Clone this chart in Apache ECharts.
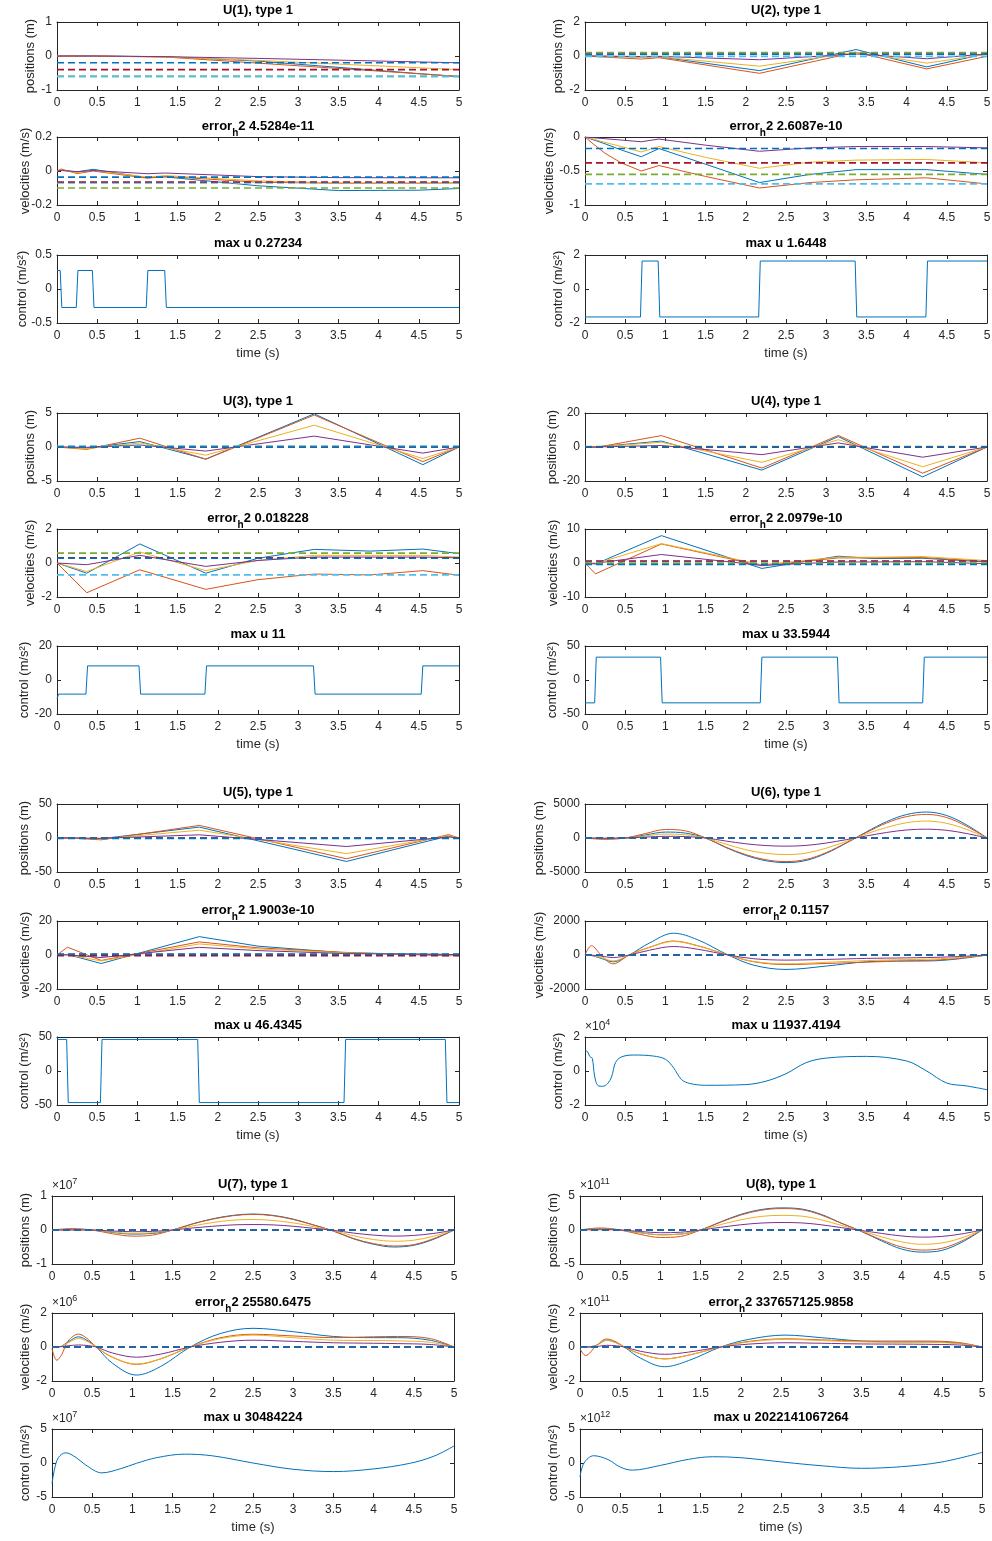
<!DOCTYPE html>
<html>
<head>
<meta charset="utf-8">
<title>U(1) - U(8), type 1</title>
<script src="https://cdn.jsdelivr.net/npm/echarts@6.0.0/dist/echarts.min.js"></script>
<style>
  html, body { margin: 0; padding: 0; background: #fff; }
  #chart { width: 992px; height: 1541px; }
</style>
</head>
<body>
<div id="chart"></div>
<script>
// ---- titles ----
const groupNames = ['U(1), type 1', 'U(2), type 1', 'U(3), type 1', 'U(4), type 1',
                    'U(5), type 1', 'U(6), type 1', 'U(7), type 1', 'U(8), type 1'];
const errorValues = ['4.5284e-11', '2.6087e-10', '0.018228', '2.0979e-10',
                     '1.9003e-10', '0.1157', '25580.6475', '337657125.9858'];
const maxUValues = ['0.27234', '1.6448', '11', '33.5944',
                    '46.4345', '11937.4194', '30484224', '2022141067264'];
const yLabels = ['positions (m)', 'velocities (m/s)', 'control (m/s²)'];
const xLabel = 'time (s)';
const xTicks = [0, 0.5, 1, 1.5, 2, 2.5, 3, 3.5, 4, 4.5, 5];
// exponent (x10^n) shown above each panel, 0 = none
const yExponents = [[0, 0, 0], [0, 0, 0], [0, 0, 0], [0, 0, 0],
                    [0, 0, 0], [0, 0, 4], [7, 6, 7], [11, 11, 12]];

// ---- U(1) ----
const u1PosT = [0, 0.45, 1.35, 2.5, 5];
const u1PosBlue = [0, 0, -0.02, -0.15, -0.61];
const u1PosOrange = [0, 0, -0.03, -0.21, -0.6];
const u1PosYellow = [0, 0, -0.03, -0.13, -0.4];
const u1PosPurple = [0, 0, -0.02, -0.07, -0.2];
const u1PosTarget = [-0.6, -0.6, -0.4, -0.2];
const u1PosTicks = [-1, 0, 1];
const u1VelT = [0, 0.05, 0.25, 0.45, 1.12, 1.35, 2.5, 3.5, 4.5, 5];
const u1VelBlue = [0, 0.005, -0.005, 0.01, -0.04, -0.035, -0.087, -0.115, -0.113, -0.103];
const u1VelOrange = [0, 0.012, -0.015, 0, -0.042, -0.032, -0.066, -0.072, -0.072, -0.07];
const u1VelYellow = [0, 0.006, -0.01, 0.003, -0.036, -0.027, -0.058, -0.07, -0.07, -0.07];
const u1VelPurple = [0, 0.003, -0.004, 0.003, -0.016, -0.012, -0.033, -0.039, -0.04, -0.04];
const u1VelTarget = [-0.1, -0.07, -0.065, -0.036];
const u1VelTicks = [-0.2, 0, 0.2];
const u1CtrlT = [0, 0.04, 0.06, 0.24, 0.26, 0.44, 0.46, 1.11, 1.13, 1.34, 1.36, 5];
const u1CtrlU = [0.27234, 0.27234, -0.27234, -0.27234, 0.27234, 0.27234, -0.27234, -0.27234, 0.27234, 0.27234, -0.27234, -0.27234];
const u1CtrlTicks = [-0.5, 0, 0.5];

// ---- U(2) ----
const u2PosT = [0, 0.7, 0.92, 2.17, 3.37, 4.25, 5];
const u2PosBlue = [0, -0.05, -0.05, -0.86, 0.38, -0.64, 0.15];
const u2PosOrange = [0, -0.18, -0.1, -1.02, 0.22, -0.76, -0.02];
const u2PosYellow = [0, -0.08, -0.05, -0.6, 0.22, -0.42, 0.1];
const u2PosPurple = [0, -0.03, -0.02, -0.22, 0.12, -0.16, 0.12];
const u2PosTarget = [0.2, -0.02, 0.1, 0.1];
const u2PosTicks = [-2, 0, 2];
const u2VelT = [0, 0.1, 0.25, 0.45, 0.7, 0.92, 1.5, 2.17, 2.8, 3.37, 4.25, 5];
const u2VelBlue = [0, -0.04, -0.1, -0.19, -0.29, -0.17, -0.4, -0.67, -0.55, -0.48, -0.48, -0.55];
const u2VelOrange = [0, -0.1, -0.24, -0.38, -0.5, -0.42, -0.58, -0.75, -0.67, -0.63, -0.6, -0.69];
const u2VelYellow = [0, -0.03, -0.08, -0.14, -0.22, -0.14, -0.3, -0.46, -0.37, -0.34, -0.33, -0.38];
const u2VelPurple = [0, -0.01, -0.025, -0.045, -0.07, -0.03, -0.12, -0.21, -0.16, -0.14, -0.14, -0.16];
const u2VelTarget = [-0.55, -0.69, -0.38, -0.17];
const u2VelTicks = [-1, -0.5, 0];
const u2CtrlT = [0, 0.69, 0.71, 0.91, 0.93, 2.16, 2.18, 3.36, 3.38, 4.24, 4.26, 5];
const u2CtrlU = [-1.6448, -1.6448, 1.6448, 1.6448, -1.6448, -1.6448, 1.6448, 1.6448, -1.6448, -1.6448, 1.6448, 1.6448];
const u2CtrlTicks = [-2, 0, 2];

// ---- U(3) ----
const u3PosT = [0, 0.37, 1.03, 1.85, 3.2, 4.55, 5];
const u3PosBlue = [0, -0.15, 0.8, -1.78, 4.88, -2.6, 0];
const u3PosOrange = [0, -0.35, 1.3, -1.8, 4.7, -2.15, 0];
const u3PosYellow = [0, -0.25, 0.6, -1.2, 3.2, -1.7, 0];
const u3PosPurple = [0, -0.05, 0.3, -0.6, 1.6, -0.9, 0];
const u3PosTarget = [0.1, 0.12, -0.03, -0.03];
const u3PosTicks = [-5, 0, 5];
const u3VelT = [0, 0.37, 1.03, 1.85, 2.5, 3.2, 3.9, 4.55, 5];
const u3VelBlue = [0, -0.6, 1.12, -0.6, 0.28, 0.8, 0.7, 0.82, 0.55];
const u3VelOrange = [0, -1.75, -0.4, -1.55, -0.98, -0.65, -0.7, -0.45, -0.72];
const u3VelYellow = [0, -0.5, 0.65, -0.45, 0.15, 0.45, 0.45, 0.45, 0.35];
const u3VelPurple = [0, -0.1, 0.45, -0.2, 0.15, 0.35, 0.35, 0.35, 0.3];
const u3VelTarget = [0.58, -0.7, 0.3, 0.28];
const u3VelTicks = [-2, 0, 2];
const u3CtrlT = [0, 0.02, 0.36, 0.38, 1.02, 1.04, 1.84, 1.86, 3.19, 3.21, 4.53, 4.55, 5];
const u3CtrlU = [-11, -8.3, -8.3, 8.3, 8.3, -8.3, -8.3, 8.3, 8.3, -8.3, -8.3, 8.3, 8.3];
const u3CtrlTicks = [-20, 0, 20];

// ---- U(4) ----
const u4PosT = [0, 0.13, 0.95, 2.2, 3.15, 4.2, 5];
const u4PosBlue = [0, 0, 3.5, -13.6, 6.1, -17.6, 0];
const u4PosOrange = [0, -0.3, 6.7, -12.4, 6.8, -15.4, 0];
const u4PosYellow = [0, 0, 2.8, -9, 4.3, -11.6, 0];
const u4PosPurple = [0, 0, 0.9, -4.5, 2.4, -6, 0];
const u4PosTarget = [0.2, 0, -0.1, 0];
const u4PosTicks = [-20, 0, 20];
const u4VelT = [0, 0.13, 0.95, 2.2, 3.15, 3.6, 4.2, 5];
const u4VelBlue = [0, -0.3, 8.05, -1.6, 2.0, 1.3, 1.4, 0.3];
const u4VelOrange = [0, -3.2, 5.6, -0.8, 1.5, 1.5, 1.6, 0.5];
const u4VelYellow = [0, -0.2, 5.7, -0.5, 1.7, 1.7, 1.9, 0.7];
const u4VelPurple = [0, -0.1, 2.5, -0.7, 0.3, 0.3, 0.4, -0.2];
const u4VelTarget = [0, 0.5, 0.6, -0.4];
const u4VelTicks = [-10, 0, 10];
const u4CtrlT = [0, 0.12, 0.14, 0.94, 0.96, 2.18, 2.2, 3.14, 3.16, 4.2, 4.22, 5];
const u4CtrlU = [-33.5944, -33.5944, 33.5944, 33.5944, -33.5944, -33.5944, 33.5944, 33.5944, -33.5944, -33.5944, 33.5944, 33.5944];
const u4CtrlTicks = [-50, 0, 50];

// ---- U(5) ----
const u5PosT = [0, 0.13, 0.55, 1.77, 3.6, 4.87, 5];
const u5PosBlue = [0, 0, -1, 16, -34.5, 3, 0];
const u5PosOrange = [0, 0.3, -2.7, 18.5, -30.5, 5, 0];
const u5PosYellow = [0, 0, -1.5, 11.5, -23, 3.5, 0];
const u5PosPurple = [0, 0, -0.5, 4.7, -12.5, 1.5, 0];
const u5PosTarget = [0, 0, 0, -0.5];
const u5PosTicks = [-50, 0, 50];
const u5VelT = [0, 0.13, 0.55, 1.77, 2.5, 3.6, 4.87, 5];
const u5VelBlue = [0, 0.3, -5, 10.8, 5.2, 1.2, 0.3, 0.3];
const u5VelOrange = [0, 4.6, -3.2, 7.7, 4.2, 1.5, -0.5, 0];
const u5VelYellow = [0, 0.2, -3.5, 6.5, 3.6, 1.2, 0, -0.5];
const u5VelPurple = [0, 0.1, -1.5, 4.5, 2.6, 0.8, 0.3, 0.3];
const u5VelTarget = [0.3, 0.2, -0.4, 0.5];
const u5VelTicks = [-20, 0, 20];
const u5CtrlT = [0, 0.12, 0.14, 0.54, 0.56, 1.75, 1.77, 3.57, 3.59, 4.83, 4.85, 5];
const u5CtrlU = [46.4345, 46.4345, -46.4345, -46.4345, 46.4345, 46.4345, -46.4345, -46.4345, 46.4345, 46.4345, -46.4345, -46.4345];
const u5CtrlTicks = [-50, 0, 50];

// ---- smooth cases share a 0.25 s sampling for positions ----
const tSmooth = [0, 0.25, 0.5, 0.75, 1, 1.25, 1.5, 1.75, 2, 2.25, 2.5, 2.75, 3, 3.25, 3.5, 3.75, 4, 4.25, 4.5, 4.75, 5];

// ---- U(6) ----
const u6PosBlue = [0, -60, 0, 450, 870, 720, 0, -1390, -2560, -3340, -3620, -3300, -2250, -750, 900, 2400, 3450, 3820, 3300, 1900, 0];
const u6PosOrange = [0, -200, 0, 650, 1250, 1050, 0, -1330, -2450, -3200, -3470, -3150, -2150, -700, 800, 2200, 3150, 3470, 3000, 1700, 0];
const u6PosYellow = [0, -80, 0, 300, 580, 480, 0, -900, -1730, -2250, -2440, -2220, -1500, -500, 600, 1550, 2250, 2490, 2150, 1250, 0];
const u6PosPurple = [0, -30, 0, 130, 250, 210, 0, -440, -850, -1110, -1200, -1090, -740, -240, 300, 810, 1180, 1300, 1130, 650, 0];
const u6PosTarget = [0, 0, 0, 0];
const u6PosTicks = [-5000, 0, 5000];
const u6VelT = [0, 0.08, 0.2, 0.35, 0.55, 0.8, 1.1, 1.4, 1.78, 2.1, 2.5, 3, 3.5, 4, 4.25, 4.6, 5];
const u6VelBlue = [0, -30, -200, -400, 0, 700, 1280, 900, 0, -600, -850, -650, -400, -350, -350, -250, 0];
const u6VelOrange = [0, 550, 0, -520, 0, 450, 820, 550, 0, -400, -560, -500, -420, -350, -320, -220, 0];
const u6VelYellow = [0, -20, -150, -350, 0, 450, 800, 540, 0, -380, -520, -430, -330, -270, -250, -170, 0];
const u6VelPurple = [0, -10, -60, -150, 0, 280, 500, 340, 0, -220, -300, -260, -200, -170, -150, -100, 0];
const u6VelTarget = [0, 0, 0, 0];
const u6VelTicks = [-2000, 0, 2000];
const u6CtrlT = [0, 0.03, 0.06, 0.09, 0.12, 0.16, 0.22, 0.28, 0.33, 0.38, 0.45, 0.6, 0.85, 1.0, 1.1, 1.2, 1.3, 1.5, 2.0, 2.25, 2.5, 2.75, 3.0, 3.5, 4.0, 4.25, 4.5, 4.75, 5];
const u6CtrlU = [1.19, 1.15, 0.85, 0.75, -0.3, -0.85, -0.9, -0.75, -0.35, 0.5, 0.82, 0.94, 0.88, 0.69, 0.2, -0.5, -0.73, -0.84, -0.8, -0.6, -0.16, 0.49, 0.76, 0.86, 0.59, 0, -0.71, -0.88, -1.1]; // x1e4
const u6CtrlTicks = [-2, 0, 2];

// ---- U(7) ----  (positions x1e7, velocities x1e6, control x1e7)
const u7PosBlue = [0, 0.02, 0, -0.07, -0.12, -0.1, 0, 0.18, 0.33, 0.43, 0.47, 0.43, 0.32, 0.15, -0.03, -0.26, -0.42, -0.5, -0.45, -0.27, 0];
const u7PosOrange = [0, 0.04, 0, -0.11, -0.18, -0.15, 0, 0.18, 0.32, 0.42, 0.46, 0.42, 0.31, 0.15, -0.03, -0.25, -0.4, -0.47, -0.43, -0.25, 0];
const u7PosYellow = [0, 0.01, 0, -0.06, -0.1, -0.08, 0, 0.12, 0.22, 0.29, 0.31, 0.28, 0.21, 0.1, -0.02, -0.17, -0.28, -0.33, -0.3, -0.18, 0];
const u7PosPurple = [0, 0, 0, -0.03, -0.05, -0.04, 0, 0.06, 0.11, 0.15, 0.16, 0.15, 0.11, 0.05, -0.01, -0.09, -0.15, -0.18, -0.16, -0.1, 0];
const u7PosTarget = [0, 0, 0, 0];
const u7PosTicks = [-1, 0, 1];
const u7VelT = [0, 0.06, 0.12, 0.2, 0.33, 0.45, 0.55, 0.75, 1.05, 1.35, 1.72, 2.1, 2.5, 3.0, 3.5, 4.0, 4.3, 4.7, 5];
const u7VelBlue = [0, 0, 0.05, 0.3, 0.6, 0.35, 0, -0.95, -1.65, -1.15, 0, 0.8, 1.1, 0.9, 0.62, 0.55, 0.55, 0.4, 0];
const u7VelOrange = [-0.1, -0.78, -0.45, 0.35, 0.76, 0.45, 0, -0.6, -1.02, -0.7, 0, 0.55, 0.75, 0.65, 0.55, 0.6, 0.62, 0.5, 0];
const u7VelYellow = [0, 0, 0.05, 0.25, 0.5, 0.3, 0, -0.6, -1.0, -0.7, 0, 0.5, 0.7, 0.55, 0.4, 0.38, 0.36, 0.28, 0];
const u7VelPurple = [0, 0, 0.02, 0.07, 0.12, 0.08, 0, -0.35, -0.6, -0.42, 0, 0.28, 0.4, 0.33, 0.25, 0.22, 0.2, 0.15, 0];
const u7VelTarget = [0, 0, 0, 0];
const u7VelTicks = [-2, 0, 2];
const u7CtrlT = [0, 0.03, 0.08, 0.17, 0.3, 0.42, 0.62, 0.85, 1.05, 1.3, 1.65, 2.0, 2.5, 3.0, 3.5, 4.0, 4.45, 4.75, 5];
const u7CtrlU = [-3.05, -1.0, 0.8, 1.5, 0.8, -0.3, -1.45, -0.85, -0.05, 0.78, 1.3, 1.05, 0, -0.92, -1.26, -0.87, -0.05, 1.0, 2.5];
const u7CtrlTicks = [-5, 0, 5];

// ---- U(8) ----  (positions x1e11, velocities x1e11, control x1e12)
const u8PosBlue = [0, 0.2, 0, -0.4, -0.7, -0.6, 0, 1.2, 2.3, 3.0, 3.25, 3.1, 2.3, 1.0, -0.2, -1.6, -2.8, -3.25, -3.0, -1.8, 0];
const u8PosOrange = [0, 0.3, 0, -0.65, -1.1, -0.95, 0, 1.15, 2.2, 2.9, 3.15, 3.0, 2.2, 1.0, -0.2, -1.45, -2.5, -2.95, -2.7, -1.6, 0];
const u8PosYellow = [0, 0.15, 0, -0.4, -0.7, -0.6, 0, 0.8, 1.5, 2.0, 2.15, 2.05, 1.5, 0.68, -0.14, -1.0, -1.75, -2.1, -1.9, -1.15, 0];
const u8PosPurple = [0, 0.05, 0, -0.22, -0.4, -0.33, 0, 0.4, 0.77, 1.02, 1.1, 1.05, 0.77, 0.35, -0.07, -0.5, -0.88, -1.05, -0.95, -0.57, 0];
const u8PosTarget = [0, 0, 0, 0];
const u8PosTicks = [-5, 0, 5];
const u8VelT = [0, 0.07, 0.2, 0.33, 0.45, 0.55, 0.75, 1.05, 1.35, 1.75, 2.1, 2.55, 3.0, 3.5, 4.0, 4.3, 4.7, 5];
const u8VelBlue = [0, 0, 0.1, 0.4, 0.25, 0, -0.65, -1.16, -0.8, 0, 0.45, 0.7, 0.55, 0.35, 0.3, 0.3, 0.22, 0];
const u8VelOrange = [-0.1, -0.5, 0.05, 0.47, 0.3, 0, -0.4, -0.7, -0.48, 0, 0.33, 0.48, 0.42, 0.35, 0.35, 0.35, 0.27, 0];
const u8VelYellow = [0, 0, 0.08, 0.4, 0.25, 0, -0.4, -0.7, -0.48, 0, 0.3, 0.45, 0.38, 0.3, 0.28, 0.28, 0.2, 0];
const u8VelPurple = [0, 0, 0.02, 0.1, 0.07, 0, -0.25, -0.43, -0.3, 0, 0.17, 0.25, 0.22, 0.18, 0.17, 0.16, 0.12, 0];
const u8VelTarget = [0, 0, 0, 0];
const u8VelTicks = [-2, 0, 2];
const u8CtrlT = [0, 0.05, 0.17, 0.35, 0.5, 0.65, 1.0, 1.35, 1.65, 2.0, 2.55, 3.0, 3.5, 4.0, 4.5, 5];
const u8CtrlU = [-2.02, 0, 1.07, 0.5, -0.6, -1.05, -0.35, 0.54, 0.92, 0.78, 0.1, -0.4, -0.78, -0.54, 0.15, 1.55];
const u8CtrlTicks = [-5, 0, 5];

const groups = [
  { smooth: false,
    pos: [u1PosT, [u1PosBlue, u1PosOrange, u1PosYellow, u1PosPurple], u1PosTarget, u1PosTicks],
    vel: [u1VelT, [u1VelBlue, u1VelOrange, u1VelYellow, u1VelPurple], u1VelTarget, u1VelTicks],
    ctrl: [u1CtrlT, [u1CtrlU], null, u1CtrlTicks] },
  { smooth: false,
    pos: [u2PosT, [u2PosBlue, u2PosOrange, u2PosYellow, u2PosPurple], u2PosTarget, u2PosTicks],
    vel: [u2VelT, [u2VelBlue, u2VelOrange, u2VelYellow, u2VelPurple], u2VelTarget, u2VelTicks],
    ctrl: [u2CtrlT, [u2CtrlU], null, u2CtrlTicks] },
  { smooth: false,
    pos: [u3PosT, [u3PosBlue, u3PosOrange, u3PosYellow, u3PosPurple], u3PosTarget, u3PosTicks],
    vel: [u3VelT, [u3VelBlue, u3VelOrange, u3VelYellow, u3VelPurple], u3VelTarget, u3VelTicks],
    ctrl: [u3CtrlT, [u3CtrlU], null, u3CtrlTicks] },
  { smooth: false,
    pos: [u4PosT, [u4PosBlue, u4PosOrange, u4PosYellow, u4PosPurple], u4PosTarget, u4PosTicks],
    vel: [u4VelT, [u4VelBlue, u4VelOrange, u4VelYellow, u4VelPurple], u4VelTarget, u4VelTicks],
    ctrl: [u4CtrlT, [u4CtrlU], null, u4CtrlTicks] },
  { smooth: false,
    pos: [u5PosT, [u5PosBlue, u5PosOrange, u5PosYellow, u5PosPurple], u5PosTarget, u5PosTicks],
    vel: [u5VelT, [u5VelBlue, u5VelOrange, u5VelYellow, u5VelPurple], u5VelTarget, u5VelTicks],
    ctrl: [u5CtrlT, [u5CtrlU], null, u5CtrlTicks] },
  { smooth: 0.35,
    pos: [tSmooth, [u6PosBlue, u6PosOrange, u6PosYellow, u6PosPurple], u6PosTarget, u6PosTicks],
    vel: [u6VelT, [u6VelBlue, u6VelOrange, u6VelYellow, u6VelPurple], u6VelTarget, u6VelTicks],
    ctrl: [u6CtrlT, [u6CtrlU], null, u6CtrlTicks] },
  { smooth: 0.35,
    pos: [tSmooth, [u7PosBlue, u7PosOrange, u7PosYellow, u7PosPurple], u7PosTarget, u7PosTicks],
    vel: [u7VelT, [u7VelBlue, u7VelOrange, u7VelYellow, u7VelPurple], u7VelTarget, u7VelTicks],
    ctrl: [u7CtrlT, [u7CtrlU], null, u7CtrlTicks] },
  { smooth: 0.35,
    pos: [tSmooth, [u8PosBlue, u8PosOrange, u8PosYellow, u8PosPurple], u8PosTarget, u8PosTicks],
    vel: [u8VelT, [u8VelBlue, u8VelOrange, u8VelYellow, u8VelPurple], u8VelTarget, u8VelTicks],
    ctrl: [u8CtrlT, [u8CtrlU], null, u8CtrlTicks] }
];

// ---- layout / style ----
const FONT = '"Liberation Sans", Arial, Helvetica, sans-serif';
const INK = '#262626';
const SOLID = ['#0072BD', '#D95319', '#EDB120', '#7E2F8E'];
const DASHED = ['#77AC30', '#4DBEEE', '#A2142F', '#0072BD'];
const colX = [[57, 459], [585, 987]];
const colXLast = [[52, 454], [580, 982]];
const rowTops = [[22, 137, 255], [413, 529, 646], [804, 921, 1037], [1196, 1313, 1429]];
const PLOT_H = 68;
const yNameGaps = [[20, 25, 28], [20, 29, 20], [20, 20, 26], [26, 25, 26],
                   [26, 25, 26], [39, 39, 20], [20, 20, 20], [20, 20, 20]];

const titleRich = {
  b: { fontSize: 13, fontWeight: 'bold', color: '#000', fontFamily: FONT, lineHeight: 15 },
  s: { fontSize: 10, fontWeight: 'bold', color: '#000', fontFamily: FONT, lineHeight: 11, padding: [13, 0, 0, 0] }
};

function baseAxis(extra) {
  return Object.assign({
    type: 'value',
    axisLine: { show: true, onZero: false, lineStyle: { color: INK, width: 1 } },
    axisTick: { show: true, inside: true, length: 4, lineStyle: { color: INK, width: 1 } },
    splitLine: { show: false },
    axisLabel: { color: INK, fontSize: 12, fontFamily: FONT, formatter: v => String(v) },
    nameMoveOverlap: false
  }, extra);
}

const grids = [], xAxes = [], yAxes = [], series = [], titles = [];

groups.forEach((grp, g) => {
  const c = g % 2, r = Math.floor(g / 2);
  const xs = r === 3 ? colXLast[c] : colX[c];
  [grp.pos, grp.vel, grp.ctrl].forEach((panel, k) => {
    const [times, lines, targets, ticks] = panel;
    const idx = grids.length;
    const top = rowTops[r][k];
    grids.push({ left: xs[0], top: top, width: xs[1] - xs[0], height: PLOT_H,
                 containLabel: false, outerBoundsMode: 'none' });

    let title, gap = 4;
    if (k === 0) title = '{b|' + groupNames[g] + '}';
    else if (k === 1) { title = '{b|error}{s|h}{b|2 ' + errorValues[g] + '}'; gap = 3; }
    else title = '{b|max u ' + maxUValues[g] + '}';

    xAxes.push(baseAxis({
      gridIndex: idx, position: 'bottom', min: xTicks[0], max: xTicks[xTicks.length - 1],
      interval: xTicks[1] - xTicks[0],
      axisLabel: { color: INK, fontSize: 12, fontFamily: FONT, margin: 7, formatter: v => String(v) },
      name: k === 2 ? xLabel : '', nameLocation: 'middle', nameGap: 24,
      nameTextStyle: { color: INK, fontSize: 13, fontFamily: FONT }
    }));
    xAxes.push(baseAxis({
      gridIndex: idx, position: 'top', min: xTicks[0], max: xTicks[xTicks.length - 1],
      interval: xTicks[1] - xTicks[0], axisLabel: { show: false },
      name: title, nameLocation: 'middle', nameGap: gap,
      nameTextStyle: { rich: titleRich }
    }));
    const yMin = ticks[0], yMax = ticks[ticks.length - 1], yStep = ticks[1] - ticks[0];
    yAxes.push(baseAxis({
      gridIndex: idx, position: 'left', min: yMin, max: yMax, interval: yStep,
      axisLabel: { color: INK, fontSize: 12, fontFamily: FONT, margin: 5, formatter: v => String(v) },
      name: yLabels[k], nameLocation: 'middle', nameRotate: 90, nameGap: yNameGaps[g][k],
      nameTextStyle: { color: INK, fontSize: 13, fontFamily: FONT }
    }));
    yAxes.push(baseAxis({
      gridIndex: idx, position: 'right', min: yMin, max: yMax, interval: yStep,
      axisLabel: { show: false }
    }));

    lines.forEach((vals, j) => {
      series.push({
        type: 'line', xAxisIndex: 2 * idx, yAxisIndex: 2 * idx,
        data: times.map((t, n) => [t, vals[n]]),
        symbol: 'none', showSymbol: false, smooth: grp.smooth, silent: true,
        lineStyle: { color: SOLID[j], width: 1 }, itemStyle: { color: SOLID[j] }
      });
    });
    if (targets) {
      targets.forEach((v, j) => {
        series.push({
          type: 'line', xAxisIndex: 2 * idx, yAxisIndex: 2 * idx,
          data: [[xTicks[0], v], [xTicks[xTicks.length - 1], v]],
          symbol: 'none', showSymbol: false, silent: true,
          lineStyle: { color: DASHED[j], width: 1.6, type: [7, 4] }, itemStyle: { color: DASHED[j] }
        });
      });
    }

    const ex = yExponents[g][k];
    if (ex) {
      titles.push({
        text: '{a|×10}{e|' + ex + '}', left: xs[0], top: top - 17, padding: 0,
        textStyle: { fontWeight: 'normal', rich: {
          a: { fontSize: 12, fontWeight: 'normal', lineHeight: 13, color: INK, fontFamily: FONT },
          e: { fontSize: 9, fontWeight: 'normal', lineHeight: 10, color: INK, fontFamily: FONT, padding: [0, 0, 8, 0] }
        } }
      });
    }
  });
});

const chart = echarts.init(document.getElementById('chart'));
chart.setOption({
  backgroundColor: '#fff',
  animation: false,
  title: titles,
  grid: grids,
  xAxis: xAxes,
  yAxis: yAxes,
  series: series
});
</script>
</body>
</html>
